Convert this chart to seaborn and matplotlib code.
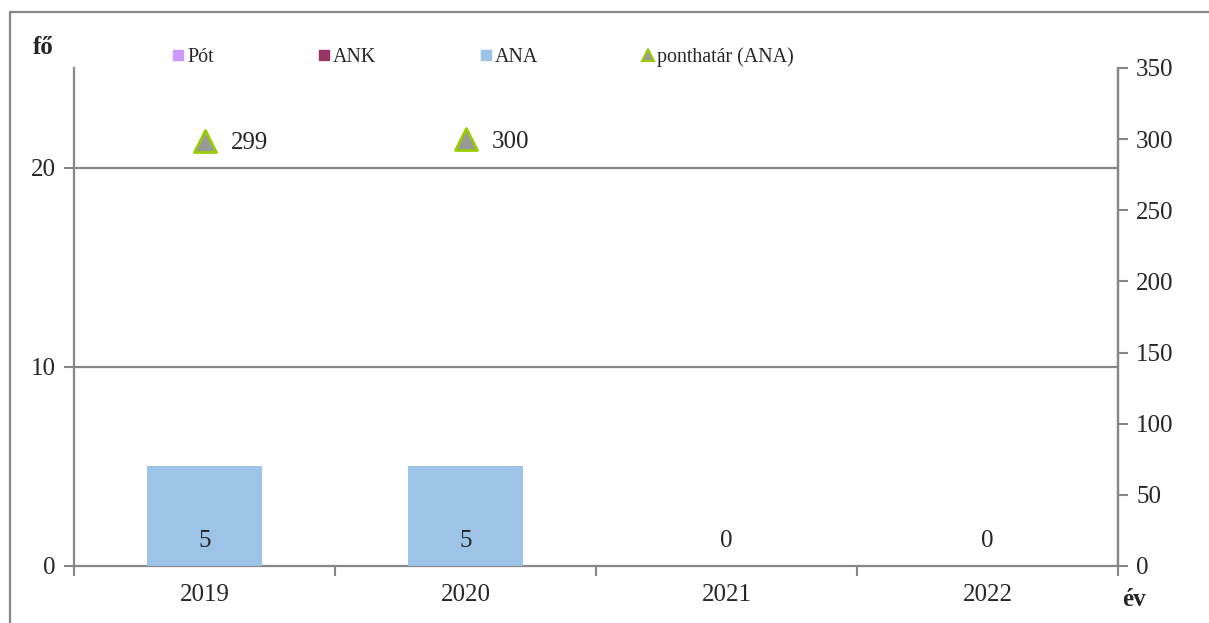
import numpy as np
import pandas as pd
import matplotlib
matplotlib.use("Agg")
import matplotlib.pyplot as plt
import seaborn as sns
from matplotlib.lines import Line2D

years = ["2019", "2020", "2021", "2022"]
pot = [0, 0, 0, 0]
ank = [0, 0, 0, 0]
ana = [5, 5, 0, 0]
ponthatar = [299, 300, np.nan, np.nan]

left_ticks = [0, 10, 20]
right_ticks = [0, 50, 100, 150, 200, 250, 300, 350]

c_pot = "#CC99FF"
c_ank = "#993366"
c_ana = "#9DC3E6"
c_tri_face = "#999999"
c_tri_edge = "#99CC00"
c_axis = "#878787"

FS = 18

sns.set_theme(style="white")
plt.rcParams["font.family"] = ["Liberation Serif", "DejaVu Serif"]
plt.rcParams["axes.unicode_minus"] = False

fig = plt.figure(figsize=(12.09, 6.23), dpi=100)
ax = fig.add_axes([74/1209, 1-566/623, (1118-74)/1209, (566-68)/623])

df = pd.DataFrame({"év": years, "Pót": pot, "ANK": ank, "ANA": ana})
for col, colr in [("Pót", c_pot), ("ANK", c_ank), ("ANA", c_ana)]:
    sns.barplot(data=df, x="év", y=col, color=colr, width=0.44,
                saturation=1, ax=ax, linewidth=0, zorder=3)

ax.set_xlim(-0.5, len(years) - 0.5)
ax.set_ylim(0, 25)
ax.set_yticks(left_ticks)
ax.set_yticklabels([str(t) for t in left_ticks], fontsize=FS)
ax.set_xticks(np.arange(len(years) + 1) - 0.5)
ax.set_xticklabels([])
ax.set_xticks(np.arange(len(years)), minor=True)
ax.set_xticklabels(years, minor=True, fontsize=FS)
ax.tick_params(axis="x", which="major", direction="out", length=7, width=1.5,
               color=c_axis, bottom=True)
ax.tick_params(axis="x", which="minor", length=0, pad=13)
ax.tick_params(axis="y", direction="out", length=7, width=1.5, color=c_axis,
               left=True, pad=6)
ax.set_xlabel("")
ax.set_ylabel("")
for t in ax.get_yticks():
    if t > 0:
        ax.axhline(t, color=c_axis, lw=1.6, zorder=1)
for s in ["left", "bottom", "right"]:
    ax.spines[s].set_color(c_axis)
    ax.spines[s].set_linewidth(1.6)
ax.spines["top"].set_visible(False)

# data labels for ANA
for i, v in enumerate(ana):
    ax.annotate(str(v), (i, 0), xytext=(0, 10), textcoords="offset points",
                ha="center", va="bottom", fontsize=FS, zorder=5)

ax2 = ax.twinx()
pos = np.arange(len(years))
mask = ~np.isnan(np.array(ponthatar, dtype=float))
sns.scatterplot(x=pos[mask], y=np.array(ponthatar)[mask], marker="^", s=250,
                color=c_tri_face, edgecolor=c_tri_edge, linewidth=2.0,
                ax=ax2, zorder=6, clip_on=False)
for p, v in zip(pos[mask], np.array(ponthatar)[mask]):
    ax2.annotate(f"{int(v)}", (p, v), xytext=(19, -2), textcoords="offset points",
                 ha="left", va="center", fontsize=FS)
ax2.set_ylim(0, 350)
ax2.set_yticks(right_ticks)
ax2.set_yticklabels([str(t) for t in right_ticks], fontsize=FS)
ax2.tick_params(axis="y", direction="out", length=7, width=1.5, color=c_axis,
                right=True, pad=6)
for s in ["left", "bottom", "top"]:
    ax2.spines[s].set_visible(False)
ax2.spines["right"].set_color(c_axis)
ax2.spines["right"].set_linewidth(1.6)
ax2.set_ylabel("")
ax2.grid(False)
ax.grid(False)

# axis titles
fig.text(43/1209, 1-47/623, "fő", fontsize=18, fontweight="bold", ha="center", va="center")
fig.text(1134/1209, 1-599/623, "év", fontsize=18, fontweight="bold", ha="center", va="center")

# legend
handles = [
    Line2D([], [], marker="s", ls="", color=c_pot, markersize=6.5),
    Line2D([], [], marker="s", ls="", color=c_ank, markersize=6.5),
    Line2D([], [], marker="s", ls="", color=c_ana, markersize=6.5),
    Line2D([], [], marker="^", ls="", markerfacecolor=c_tri_face,
           markeredgecolor=c_tri_edge, markeredgewidth=1.5, markersize=8),
]
labels = ["Pót", "ANK", "ANA", "ponthatár (ANA)"]
fig.legend(handles, labels, ncol=4, loc="center left",
           bbox_to_anchor=(173/1209, 1-57/623), frameon=False, fontsize=14.4,
           handlelength=0.5, handletextpad=0.2, columnspacing=5.25,
           borderaxespad=0, borderpad=0)

# outer frame
fig.add_artist(Line2D([10/1209, 10/1209], [0, 1-12/623], color=c_axis, lw=1.6,
                      transform=fig.transFigure))
fig.add_artist(Line2D([10/1209, 1], [1-12/623, 1-12/623], color=c_axis, lw=1.6,
                      transform=fig.transFigure))

fig.savefig("out.png", dpi=100)
